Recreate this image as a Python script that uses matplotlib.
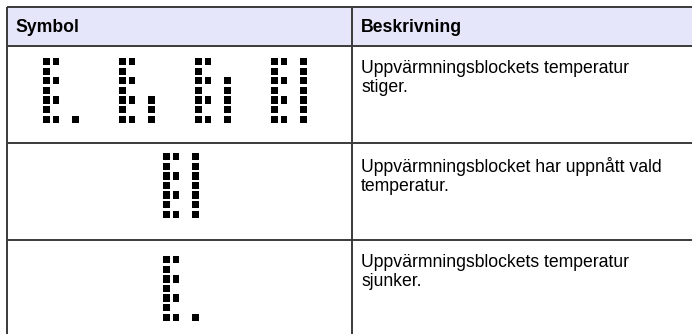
import matplotlib.pyplot as plt
from matplotlib.patches import Rectangle

# table content
headers = ['Symbol', 'Beskrivning']
descriptions = [
    'Uppvärmningsblockets temperatur\nstiger.',
    'Uppvärmningsblocket har uppnått vald\ntemperatur.',
    'Uppvärmningsblockets temperatur\nsjunker.',
]

# dot-matrix glyphs, 4 columns x 7 rows ('X' = lit)
glyph_e_dot = ['XX..', 'X...', 'XX..', 'X...', 'XX..', 'X...', 'XX.X']
glyph_e_comma = ['XX..', 'X...', 'XX..', 'X...', 'XX.X', 'X..X', 'XX.X']
glyph_e_half = ['XX..', 'X...', 'XX.X', 'X..X', 'XX.X', 'X..X', 'XX.X']
glyph_e_full = ['XX.X', 'X..X', 'XX.X', 'X..X', 'XX.X', 'X..X', 'XX.X']

row_symbols = [
    [glyph_e_dot, glyph_e_comma, glyph_e_half, glyph_e_full],
    [glyph_e_full],
    [glyph_e_dot],
]

plt.rcParams['font.family'] = ['Liberation Sans', 'DejaVu Sans']

fig = plt.figure(figsize=(6.92, 3.34), dpi=100)
ax = fig.add_axes([0, 0, 1, 1])
ax.set_xlim(0, 692)
ax.set_ylim(334, 0)
ax.axis('off')

left, mid, right = 7, 352, 692
top, head_bot = 7, 46
row_lines = [head_bot, 143, 240, 334]
line_col = '#3a3a3a'

ax.add_patch(Rectangle((left, top), right - left, head_bot - top,
                       facecolor='#e6e6fa', edgecolor='none'))
for y in [top, head_bot, 143, 240]:
    ax.plot([left, right], [y, y], color=line_col, lw=1.4, solid_capstyle='butt')
for x in [left, mid]:
    ax.plot([x, x], [top, 334], color=line_col, lw=1.4, solid_capstyle='butt')

fs = 12.7
ax.text(left + 8, 27, headers[0], fontsize=fs, fontweight='bold', va='center')
ax.text(mid + 9, 27, headers[1], fontsize=fs, fontweight='bold', va='center')

for i, desc in enumerate(descriptions):
    ax.text(mid + 9, row_lines[i] + 14, desc, fontsize=fs, va='top',
            linespacing=1.18)

# draw the glyphs
pitch_x, pitch_y = 9.7, 9.6
size_w, size_h = 6.6, 7.3
glyph_gap = 76
glyph_top = [58, 153, 256]
for i, glyphs in enumerate(row_symbols):
    width = (len(glyphs) - 1) * glyph_gap + 3 * pitch_x + size_w
    x_start = 175 - width / 2 if len(glyphs) > 1 else 163
    y0 = glyph_top[i]
    for g, glyph in enumerate(glyphs):
        gx = x_start + g * glyph_gap
        for r, line in enumerate(glyph):
            for c, ch in enumerate(line):
                if ch == 'X':
                    ax.add_patch(Rectangle((gx + c * pitch_x, y0 + r * pitch_y),
                                           size_w, size_h, facecolor='black',
                                           edgecolor='none'))

fig.savefig('out.png', dpi=100)
